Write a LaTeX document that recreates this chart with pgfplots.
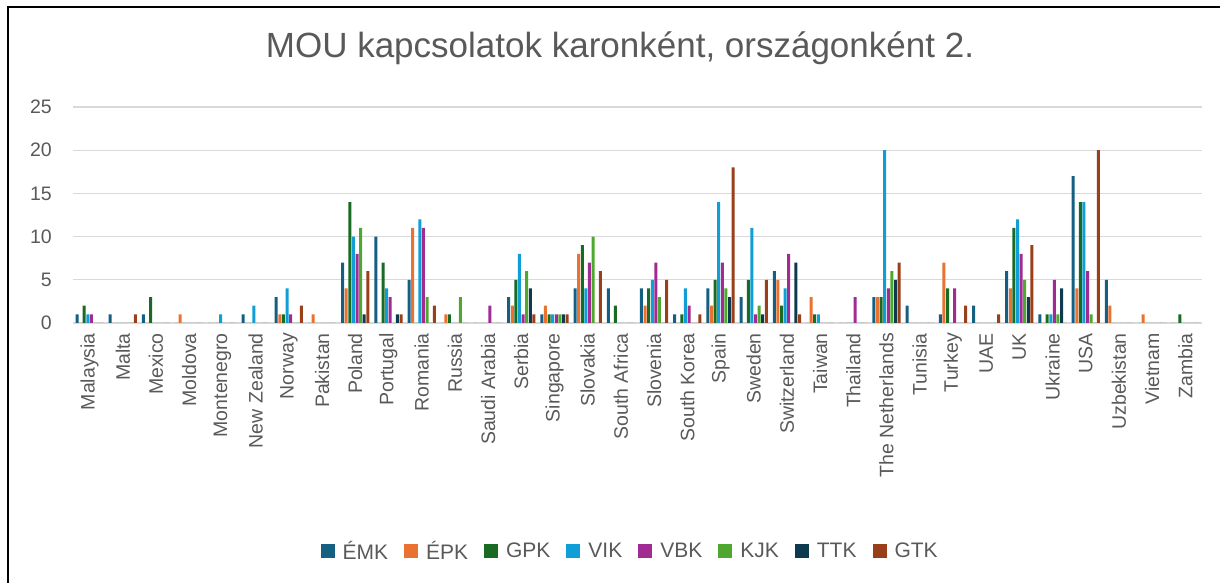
\documentclass[border=0pt]{standalone}
\usepackage{pgfplots}
\pgfplotsset{compat=1.18}
\usepackage{pgfplotstable}
\usepackage{fontspec}
\setmainfont{Liberation Sans}
\definecolor{cEMK}{HTML}{156082}
\definecolor{cEPK}{HTML}{E97132}
\definecolor{cGPK}{HTML}{196B24}
\definecolor{cVIK}{HTML}{0F9ED5}
\definecolor{cVBK}{HTML}{A02B93}
\definecolor{cKJK}{HTML}{4EA72E}
\definecolor{cTTK}{HTML}{0E3A50}
\definecolor{cGTK}{HTML}{99401A}
\definecolor{txtgray}{HTML}{595959}
\definecolor{gridgray}{HTML}{D9D9D9}

\pgfplotstableread{
x emk epk gpk vik vbk kjk ttk gtk
0  1 0 2 1 1 0 0 0
1  1 0 0 0 0 0 0 1
2  1 0 3 0 0 0 0 0
3  0 1 0 0 0 0 0 0
4  0 0 0 1 0 0 0 0
5  1 0 0 2 0 0 0 0
6  3 1 1 4 1 0 0 2
7  0 1 0 0 0 0 0 0
8  7 4 14 10 8 11 1 6
9  10 0 7 4 3 0 1 1
10 5 11 0 12 11 3 0 2
11 0 1 1 0 0 3 0 0
12 0 0 0 0 2 0 0 0
13 3 2 5 8 1 6 4 1
14 1 2 1 1 1 1 1 1
15 4 8 9 4 7 10 0 6
16 4 0 2 0 0 0 0 0
17 4 2 4 5 7 3 0 5
18 1 0 1 4 2 0 0 1
19 4 2 5 14 7 4 3 18
20 3 0 5 11 1 2 1 5
21 6 5 2 4 8 0 7 1
22 0 3 1 1 0 0 0 0
23 0 0 0 0 3 0 0 0
24 3 3 3 20 4 6 5 7
25 2 0 0 0 0 0 0 0
26 1 7 4 0 4 0 0 2
27 2 0 0 0 0 0 0 1
28 6 4 11 12 8 5 3 9
29 1 0 1 1 5 1 4 0
30 17 4 14 14 6 1 0 20
31 5 2 0 0 0 0 0 0
32 0 1 0 0 0 0 0 0
33 0 0 1 0 0 0 0 0
}\datatable

\begin{document}
\begin{tikzpicture}[x=1pt,y=1pt]
\path[use as bounding box] (0,0) rectangle (1220,583);
\draw[black,line width=1.2pt] (8,0) -- (8,576) -- (1220,576);
\node[text=txtgray,font=\fontsize{35}{40}\selectfont] at (620,535) {MOU kapcsolatok karonként, országonként 2.};
\begin{axis}[
  at={(73pt,260pt)}, anchor=south west,
  scale only axis, width=1129pt, height=216pt,
  ybar=0.6pt, bar width=3pt,
  xmin=-0.5, xmax=33.5, ymin=0, ymax=25,
  ytick={0,5,...,25},
  xtick={0,...,33},
  xticklabels={Malaysia,Malta,Mexico,Moldova,Montenegro,New Zealand,Norway,Pakistan,Poland,Portugal,Romania,Russia,Saudi Arabia,Serbia,Singapore,Slovakia,South Africa,Slovenia,South Korea,Spain,Sweden,Switzerland,Taiwan,Thailand,The Netherlands,Tunisia,Turkey,UAE,UK,Ukraine,USA,Uzbekistan,Vietnam,Zambia},
  xticklabel style={rotate=90,anchor=east,font=\fontsize{19.5}{22}\selectfont,text=txtgray,inner sep=0pt},
  yticklabel style={font=\fontsize{19.5}{22}\selectfont,text=txtgray,inner sep=0pt},
  /pgf/number format/assume math mode=true,
  major tick length=0pt,
  xticklabel shift=10pt,
  yticklabel shift=21pt,
  axis line style={draw=none},
  xmajorgrids=false,
  ymajorgrids=true, 
  major grid style={draw=gridgray,line width=1.3pt},
  legend style={at={(0.4935,-1.056)},anchor=center,draw=none,fill=none,
    legend columns=-1,font=\fontsize{21}{24}\selectfont,text=txtgray,
    /tikz/every odd column/.append style={column sep=6pt},
    /tikz/every even column/.append style={column sep=14pt},
    inner sep=0pt},
  legend image code/.code={\fill[#1] (0pt,-7pt) rectangle (14pt,7pt);},
  every axis plot/.append style={draw=none},
]
\addplot[fill=cEMK] table[x=x,y=emk]{\datatable};
\addplot[fill=cEPK] table[x=x,y=epk]{\datatable};
\addplot[fill=cGPK] table[x=x,y=gpk]{\datatable};
\addplot[fill=cVIK] table[x=x,y=vik]{\datatable};
\addplot[fill=cVBK] table[x=x,y=vbk]{\datatable};
\addplot[fill=cKJK] table[x=x,y=kjk]{\datatable};
\addplot[fill=cTTK] table[x=x,y=ttk]{\datatable};
\addplot[fill=cGTK] table[x=x,y=gtk]{\datatable};
\legend{ÉMK,ÉPK,GPK,VIK,VBK,KJK,TTK,GTK}
\end{axis}
\end{tikzpicture}
\end{document}
